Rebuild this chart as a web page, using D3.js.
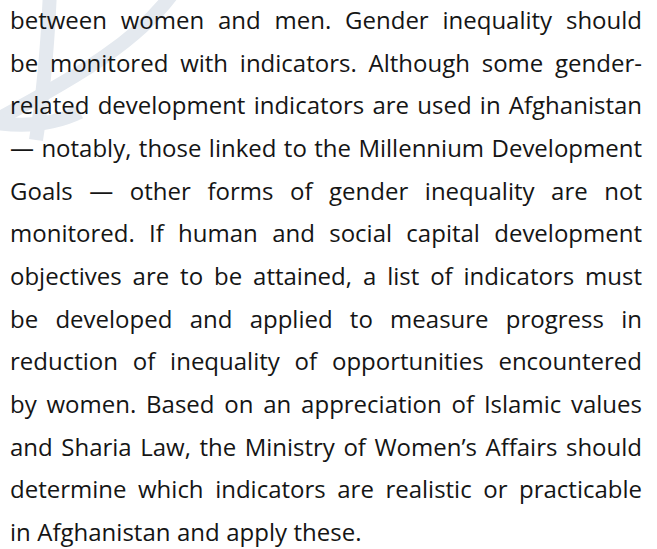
<!DOCTYPE html>
<html>
<head>
<meta charset="utf-8">
<script src="https://cdn.jsdelivr.net/npm/d3@7"></script>
<style>
  html, body { margin: 0; padding: 0; background: #ffffff; }
  svg { display: block; }
</style>
</head>
<body>
<div id="page"></div>
<script>
// Text lines of the paragraph, as they break in the original
var lines = [
  "between women and men. Gender inequality should",
  "be monitored with indicators. Although some gender-",
  "related development indicators are used in Afghanistan",
  "\u2014 notably, those linked to the Millennium Development",
  "Goals \u2014 other forms of gender inequality are not",
  "monitored. If human and social capital development",
  "objectives are to be attained, a list of indicators must",
  "be developed and applied to measure progress in",
  "reduction of inequality of opportunities encountered",
  "by women. Based on an appreciation of Islamic values",
  "and Sharia Law, the Ministry of Women\u2019s Affairs should",
  "determine which indicators are realistic or practicable",
  "in Afghanistan and apply these."
];
var lineIndex = d3.range(lines.length);

var width = 657, height = 549;
var left = 10, right = 642;

var svg = d3.select("#page").append("svg")
    .attr("width", width)
    .attr("height", height);

// faint emblem watermark in the top-left corner
var mark = svg.append("g")
    .attr("fill", "none")
    .attr("stroke", "#e4e9ef")
    .attr("stroke-width", 14);
mark.append("path").attr("d", "M175,-10 C140,40 80,75 0,118");
mark.append("path").attr("d", "M50,-10 C48,40 44,90 36,140");
mark.append("path").attr("d", "M-10,122 C25,128 55,124 80,112");

var y = d3.scaleLinear()
    .domain([0, lines.length - 1])
    .range([29, 541]);

var rows = svg.append("g")
    .attr("font-family", "'Open Sans', sans-serif")
    .attr("font-size", 24)
    .attr("fill", "#151515")
  .selectAll("g")
  .data(lineIndex)
  .enter().append("g")
    .attr("transform", function(i) { return "translate(0," + y(i) + ")"; });

rows.each(function(i) {
  var row = d3.select(this);
  var words = lines[i].split(" ");
  var nodes = words.map(function(w) {
    return row.append("text").text(w).node();
  });
  var widths = nodes.map(function(n) { return n.getComputedTextLength(); });
  var total = d3.sum(widths);
  var last = i === lines.length - 1;
  var minGap = 5;
  var avail = right - left;
  // squeeze words a little if the line would not fit
  var squeeze = Math.min(1, (avail - minGap * (words.length - 1)) / total);
  if (squeeze < 1) {
    widths = widths.map(function(w, k) {
      d3.select(nodes[k]).attr("textLength", w * squeeze).attr("lengthAdjust", "spacingAndGlyphs");
      return w * squeeze;
    });
    total = d3.sum(widths);
  }
  var gap = last ? 6.5 : (avail - total) / (words.length - 1);
  var x = left;
  nodes.forEach(function(n, k) {
    d3.select(n).attr("x", x);
    x += widths[k] + gap;
  });
});
</script>
</body>
</html>
